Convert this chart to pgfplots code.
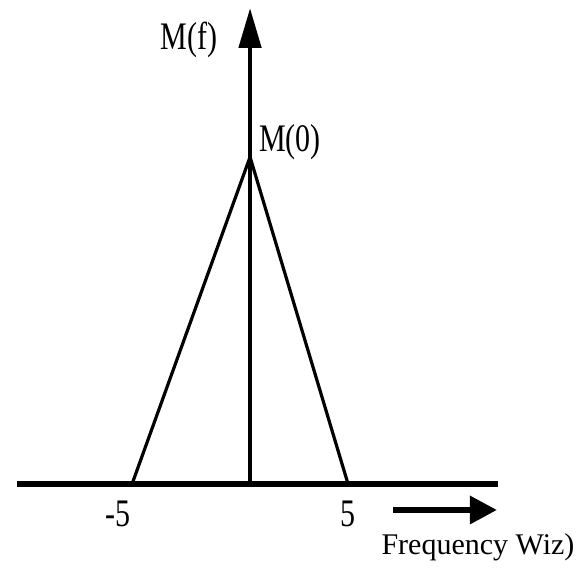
\documentclass[border=0pt]{standalone}
\usepackage{pgfplots}
\pgfplotsset{compat=1.18}
\usepackage{fontspec}
\setmainfont{Liberation Serif}
\usetikzlibrary{arrows.meta}
\begin{document}
\fontsize{15}{18}\selectfont
\begin{tikzpicture}
\useasboundingbox (-8.5pt,-44.5pt) rectangle (284.5pt,242pt);
\begin{axis}[
  at={(0,0)}, anchor=south west,
  scale only axis, width=240.5pt, height=238pt,
  xmin=-11.89, xmax=12.65, ymin=0, ymax=1.4557,
  axis lines=middle,
  xtick=\empty, ytick=\empty,
  x axis line style={-, line width=3.2pt},
  y axis line style={-{Triangle[length=20pt,width=11pt]}, line width=2.4pt},
  clip=false,
]
\addplot[black, line width=1.6pt] coordinates {(-6.02,0) (0,1) (5,0)};
\end{axis}
\draw[line width=3pt, -{Triangle[length=13.5pt,width=13.5pt]}] (188pt,-13pt) -- (240pt,-13pt);
\node at (86pt,222pt) {\scalebox{1}[1.3]{M(f)}};
\node at (136.5pt,171pt) {\scalebox{1}[1.3]{M(0)}};
\node at (50.5pt,-15pt) {\scalebox{1}[1.3]{-5}};
\node at (165.5pt,-15pt) {\scalebox{1}[1.3]{5}};
\node at (230.5pt,-31.5pt) {Frequency Wiz)};
\end{tikzpicture}
\end{document}
